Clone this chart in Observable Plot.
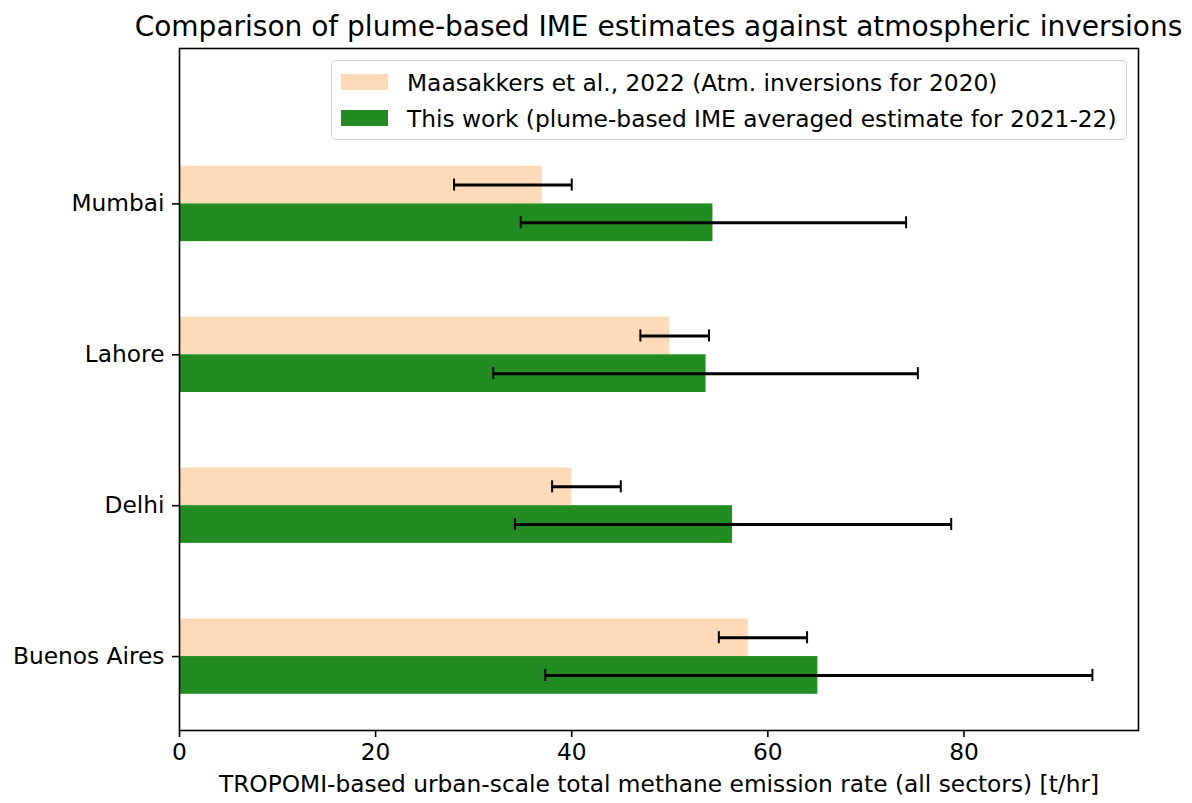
<!DOCTYPE html>
<html>
<head>
<meta charset="utf-8">
<script src="https://cdn.jsdelivr.net/npm/d3@7"></script>
<script src="https://cdn.jsdelivr.net/npm/@observablehq/plot@0.6"></script>
<style>
  body { margin: 0; background: #fff; font-family: "DejaVu Sans", sans-serif; }
  #wrap { position: relative; width: 1192px; height: 803px; }
  #title { width: 1067px; height: 32px; line-height: 32px; padding-top: 11px; padding-left: 125px; padding-right: 0;
           text-align: center; font-size: 28px; color: #000; white-space: nowrap; box-sizing: content-box; }
  #chart { height: 760px; }
  #legend { position: absolute; left: 331px; top: 60px; width: 796px; height: 80px; box-sizing: border-box;
            border: 1.5px solid #d0d0d0; border-radius: 5px; background: rgba(255,255,255,0.8); }
  .row { position: absolute; left: 0; height: 30px; display: flex; align-items: center; font-size: 23.3px; white-space: nowrap; color: #000; }
  .sw { width: 47px; height: 16px; margin-left: 9px; margin-right: 19px; }
</style>
</head>
<body>
<div id="wrap">
  <div id="title"></div>
  <div id="chart"></div>
  <div id="legend"></div>
</div>
<script>
const titleText = "Comparison of plume-based IME estimates against atmospheric inversions";
const xLabel = "TROPOMI-based urban-scale total methane emission rate (all sectors) [t/hr]";
const cities = ["Buenos Aires", "Delhi", "Lahore", "Mumbai"];
const seriesNames = ["Maasakkers et al., 2022 (Atm. inversions for 2020)", "This work (plume-based IME averaged estimate for 2021-22)"];
const seriesColors = ["#FFDAB9", "#228B22"];
const maas = [58.0, 40.0, 50.0, 37.0];
const maasLo = [55.0, 38.0, 47.0, 28.0];
const maasHi = [64.0, 45.0, 54.0, 40.0];
const ours = [65.1, 56.4, 53.7, 54.4];
const oursLo = [37.3, 34.2, 32.0, 34.8];
const oursHi = [93.1, 78.7, 75.3, 74.1];
const xTicks = [0, 20, 40, 60, 80];

document.getElementById("title").textContent = titleText;

const barH = 0.25;
const cap = 0.04;
const rows = [];
cities.forEach((c, i) => {
  rows.push({city: c, i, s: 0, v: maas[i], lo: maasLo[i], hi: maasHi[i], y1: i, y2: i + barH});
  rows.push({city: c, i, s: 1, v: ours[i], lo: oursLo[i], hi: oursHi[i], y1: i - barH, y2: i});
});
rows.forEach(d => d.yc = (d.y1 + d.y2) / 2);

const plot = Plot.plot({
  width: 1192,
  height: 760,
  marginTop: 5,
  marginBottom: 73,
  marginLeft: 179,
  marginRight: 54,
  style: { fontFamily: "DejaVu Sans, sans-serif", fontSize: "23.3px", color: "#000", background: "#fff" },
  x: { domain: [0, 97.8] },
  y: { domain: [-0.49, 4.03] },
  marks: [
    Plot.rect(rows, { x1: 0, x2: "v", y1: "y1", y2: "y2", fill: d => seriesColors[d.s] }),
    Plot.ruleY(rows, { y: "yc", x1: "lo", x2: "hi", stroke: "#000", strokeWidth: 3 }),
    Plot.ruleX(rows, { x: "lo", y1: d => d.yc - cap, y2: d => d.yc + cap, stroke: "#000", strokeWidth: 2 }),
    Plot.ruleX(rows, { x: "hi", y1: d => d.yc - cap, y2: d => d.yc + cap, stroke: "#000", strokeWidth: 2 }),
    Plot.frame({ stroke: "#000", strokeWidth: 1.6 }),
    Plot.axisX({ ticks: xTicks, tickSize: 7, tickPadding: 6, label: null, strokeWidth: 1.6, fontSize: 23.3 }),
    Plot.axisY({ ticks: [0, 1, 2, 3], tickFormat: i => cities[i], tickSize: 7, tickPadding: 8, label: null, strokeWidth: 1.6, fontSize: 23.3 }),
    Plot.text([xLabel], { text: d => d, frameAnchor: "bottom", dy: 61, fontSize: 23.3, fill: "#000" })
  ]
});
document.getElementById("chart").appendChild(plot);

const leg = document.getElementById("legend");
seriesNames.forEach((n, k) => {
  const r = document.createElement("div");
  r.className = "row";
  r.style.top = (k === 0 ? 6 : 42) + "px";
  const sw = document.createElement("div");
  sw.className = "sw";
  sw.style.background = seriesColors[k];
  const t = document.createElement("span");
  t.textContent = n;
  r.appendChild(sw); r.appendChild(t);
  leg.appendChild(r);
});
</script>
</body>
</html>
